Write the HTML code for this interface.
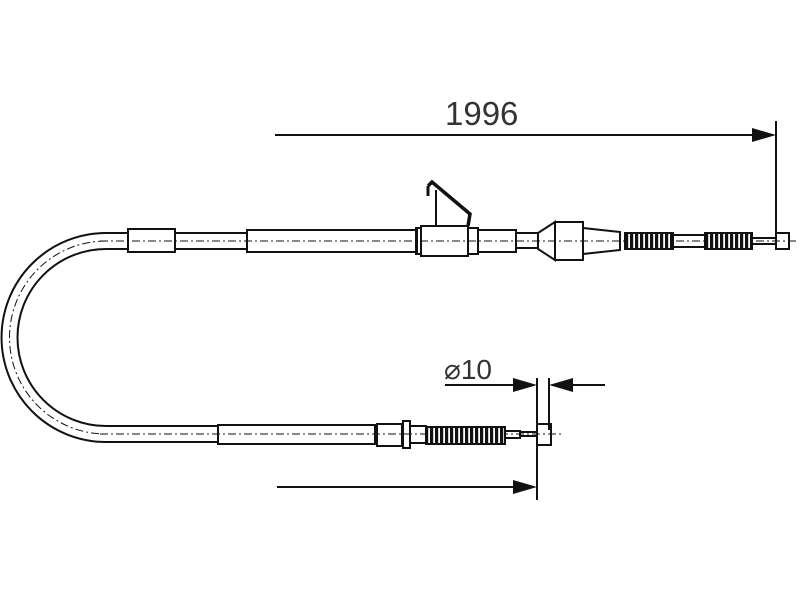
<!DOCTYPE html>
<html><head><style>html,body{margin:0;padding:0;background:#fff}svg{display:block}</style></head>
<body>
<svg width="800" height="600" viewBox="0 0 800 600" xmlns="http://www.w3.org/2000/svg">
<defs>
<pattern id="rib" width="5" height="20" patternUnits="userSpaceOnUse">
<rect width="5" height="20" fill="#fff"/><rect width="3.2" height="20" fill="#111"/>
</pattern>
</defs>
<g fill="none" stroke="#111" stroke-width="2">
<path d="M128 233 H106 A104.5 104.5 0 0 0 106 442 H218"/>
<path d="M128 249 H106 A88.5 88.5 0 0 0 106 426 H218"/>
<path d="M106 241 A96.5 96.5 0 0 0 106 434" stroke-width="1" stroke-dasharray="8 3 2 3"/>
<line x1="100" y1="241" x2="797" y2="241" stroke-width="1" stroke-dasharray="8 3 2 3"/>
<line x1="100" y1="434" x2="562" y2="434" stroke-width="1" stroke-dasharray="8 3 2 3"/>
<line x1="175" y1="233" x2="247" y2="233"/><line x1="175" y1="249" x2="247" y2="249"/>
<rect x="128" y="229" width="47" height="23"/>
<rect x="247" y="230" width="170" height="22"/>
<rect x="416" y="228" width="5" height="26"/>
<rect x="421" y="226" width="47" height="30"/>
<rect x="468" y="228" width="10" height="26"/>
<rect x="478" y="230" width="38" height="22"/>
<rect x="516" y="233" width="22" height="15"/>
<path d="M538 233 L555 222 V260 L538 249 Z"/>
<rect x="555" y="222" width="28" height="38"/>
<path d="M583 228 L620 232 V250 L583 254 Z"/>
<rect x="625" y="233" width="48" height="16" fill="url(#rib)"/>
<line x1="673" y1="235" x2="705" y2="235"/><line x1="673" y1="247" x2="705" y2="247"/>
<rect x="705" y="233" width="47" height="16" fill="url(#rib)"/>
<rect x="752" y="238" width="24" height="6"/>
<rect x="776" y="233" width="13" height="16"/>
<line x1="436" y1="190" x2="436" y2="226"/>
<path d="M428 186 L432 182 L470 214 L468 226" stroke-width="3.5"/>
<line x1="428" y1="186" x2="428" y2="196" stroke-width="3"/>
<rect x="218" y="425" width="157" height="19"/>
<rect x="377" y="424" width="25" height="22"/>
<rect x="403" y="421" width="7" height="27"/>
<rect x="410" y="426" width="16" height="17"/>
<rect x="426" y="427" width="79" height="17" fill="url(#rib)"/>
<rect x="505" y="431" width="15" height="7"/>
<line x1="520" y1="432" x2="537" y2="432"/><line x1="520" y1="436" x2="537" y2="436"/>
<rect x="537" y="424" width="14" height="21"/>
<line x1="275" y1="135" x2="752" y2="135"/>
<line x1="776" y1="121" x2="776" y2="240"/>
<line x1="445" y1="385" x2="515" y2="385"/>
<line x1="572" y1="385" x2="605" y2="385"/>
<line x1="537" y1="378" x2="537" y2="500"/>
<line x1="549" y1="378" x2="549" y2="430"/>
<line x1="277" y1="487" x2="515" y2="487"/>
</g>
<g fill="#111">
<path d="M752 128 L776 135 L752 142 Z"/>
<path d="M513 378 L537 385 L513 392 Z"/>
<path d="M573 378 L549 385 L573 392 Z"/>
<path d="M513 480 L537 487 L513 494 Z"/>
</g>
<g font-family="Liberation Sans, sans-serif" fill="#333">
<text x="445" y="125" font-size="33">1996</text>
<text x="444" y="379" font-size="28">⌀10</text>
</g>
</svg>
</body></html>
